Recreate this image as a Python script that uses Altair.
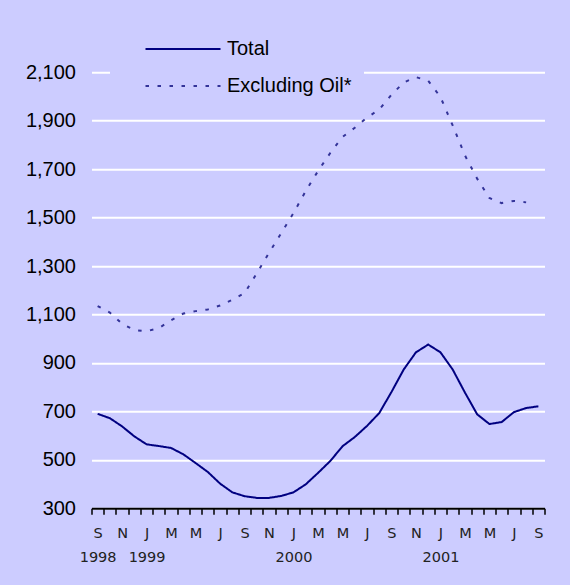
import json

import altair as alt
import pandas as pd

# Monthly series, September 1998 to September 2001
MONTHS = list("SOND" + "JFMAMJJASOND" * 2 + "JFMAMJJAS")
YEAR_MARKS = {0: "1998", 4: "1999", 16: "2000", 28: "2001"}

SERIES = ["Total", "Excluding Oil*"]

TOTAL = [
    690, 672, 638, 597, 564, 557, 549, 523, 487, 450, 402, 366,
    350, 343, 343, 351, 366, 399, 446, 495, 556, 594, 640, 693,
    780, 873, 944, 976, 944, 873, 778, 688, 648, 656, 697, 714, 721,
]

EXCLUDING_OIL = [
    1135, 1108, 1062, 1036, 1031, 1044, 1076, 1104, 1114, 1121, 1137, 1161,
    1188, 1270, 1355, 1436, 1519, 1610, 1692, 1767, 1833, 1871, 1913, 1946,
    2007, 2058, 2080, 2065, 1998, 1881, 1757, 1661, 1581, 1560, 1569, 1563,
]

Y_TICKS = list(range(300, 2101, 200))

BG = "#CCCCFF"
COLORS = ["#000080", "#333399"]
DASHES = [[1, 0], [3.5, 8.5]]

rows = []
for name, values in zip(SERIES, [TOTAL, EXCLUDING_OIL]):
    for i, v in enumerate(values):
        rows.append({"i": i, "series": name, "value": v})
df = pd.DataFrame(rows)

# Axis labels: every other month letter, with the year underneath where it starts
labels = []
for i, m in enumerate(MONTHS):
    if i % 2:
        labels.append("")
    else:
        labels.append([m, YEAR_MARKS[i]] if i in YEAR_MARKS else [m])
label_expr = json.dumps(labels) + "[datum.value]"

x_axis = alt.Axis(
    title=None,
    grid=False,
    domain=True,
    domainColor="black",
    domainWidth=2,
    ticks=True,
    tickBand="extent",
    tickColor="black",
    tickSize=6,
    tickWidth=1.5,
    labelAngle=0,
    labelExpr=label_expr,
    labelFont="DejaVu Sans",
    labelFontSize=14.5,
    labelColor="#222222",
    labelPadding=12,
    labelLineHeight=24,
    labelOverlap=False,
    labelBound=False,
)

y_axis = alt.Axis(
    title=None,
    values=Y_TICKS,
    format=",d",
    domain=False,
    ticks=False,
    grid=True,
    gridColor="white",
    gridWidth=2,
    labelFont="Liberation Sans",
    labelFontSize=20,
    labelColor="black",
    labelPadding=16,
)

legend = alt.Legend(
    title=None,
    orient="none",
    legendX=18.5,
    legendY=-48.8,
    direction="vertical",
    fillColor=BG,
    padding=12,
    rowPadding=13,
    symbolType="M-3,0H3",
    symbolSize=625,
    symbolStrokeWidth=2,
    symbolOffset=47.5,
    labelOffset=30.5,
    labelFont="Liberation Sans",
    labelFontSize=20,
    labelColor="black",
    labelLimit=300,
)

chart = (
    alt.Chart(df)
    .mark_line(strokeWidth=2)
    .encode(
        x=alt.X(
            "i:O",
            scale=alt.Scale(type="band", paddingInner=0, paddingOuter=0),
            axis=x_axis,
        ),
        y=alt.Y(
            "value:Q",
            scale=alt.Scale(domain=[300, 2100], nice=False, zero=False),
            axis=y_axis,
        ),
        color=alt.Color(
            "series:N",
            scale=alt.Scale(domain=SERIES, range=COLORS),
            sort=SERIES,
            legend=legend,
        ),
        strokeDash=alt.StrokeDash(
            "series:N",
            scale=alt.Scale(domain=SERIES, range=DASHES),
            sort=SERIES,
            legend=legend,
        ),
    )
    .properties(
        width=453,
        height=436,
        autosize=alt.AutoSizeParams(type="none"),
        padding={"left": 91.5, "top": 72.3, "right": 25.5, "bottom": 76.7},
        background=BG,
    )
    .configure_view(stroke=None)
)

chart.save("out.html", embed_options={"renderer": "svg", "actions": False})
